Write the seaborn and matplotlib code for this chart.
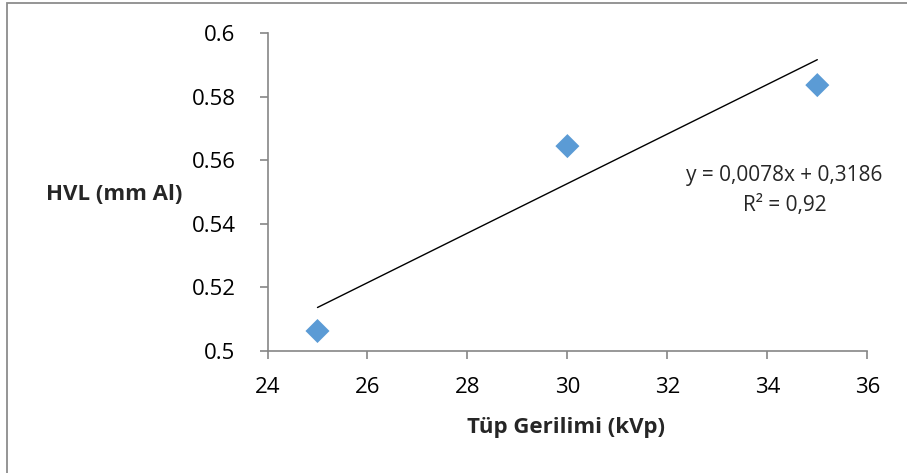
import matplotlib
matplotlib.use("Agg")
import matplotlib.pyplot as plt
from matplotlib.patches import Rectangle
import numpy as np
import pandas as pd
import seaborn as sns

# Measured half-value layer against tube voltage
kvp = [25, 30, 35]
hvl = [0.5062, 0.5644, 0.5836]

# Linear trendline coefficients as reported on the chart
slope = 0.0078
intercept = 0.3186
r_squared = 0.92

x_ticks = [24, 26, 28, 30, 32, 34, 36]
y_ticks = [0.5, 0.52, 0.54, 0.56, 0.58, 0.6]
y_tick_labels = ["0.5", "0.52", "0.54", "0.56", "0.58", "0.6"]

sns.set_theme(style="white")
plt.rcParams["font.family"] = ["Open Sans", "DejaVu Sans"]

W, H, DPI = 907, 473, 100
fig = plt.figure(figsize=(W / DPI, H / DPI), dpi=DPI)
fig.patch.set_facecolor("white")

# Chart-area frame (only left and top edges fall inside the canvas)
fig.patches.append(Rectangle((7.3 / W, -0.1), 1.2, (H - 3.3) / H + 0.1,
                             transform=fig.transFigure, fill=False,
                             edgecolor="#8c8c8c", linewidth=1.3, zorder=0))

ax = fig.add_axes([267.5 / W, (H - 350.7) / H, (867.3 - 267.5) / W, (350.7 - 33) / H])
ax.set_facecolor("none")

df = pd.DataFrame({"kVp": kvp, "HVL": hvl})
trend = pd.DataFrame({"kVp": [kvp[0], kvp[-1]]})
trend["HVL"] = slope * trend["kVp"] + intercept

sns.lineplot(data=trend, x="kVp", y="HVL", ax=ax, color="black", linewidth=1.0, zorder=2)
sns.scatterplot(data=df, x="kVp", y="HVL", ax=ax, marker="D", s=150,
                color="#5B9BD5", edgecolor="none", zorder=3)

ax.set_xlim(24, 36)
ax.set_ylim(0.5, 0.6)
ax.set_xticks(x_ticks)
ax.set_yticks(y_ticks)
ax.set_yticklabels(y_tick_labels)
ax.set_xlabel("")
ax.set_ylabel("")

for side in ["top", "right"]:
    ax.spines[side].set_visible(False)
for side in ["left", "bottom"]:
    ax.spines[side].set_color("#868686")
    ax.spines[side].set_linewidth(1.2)

ax.tick_params(axis="both", direction="out", length=6, width=1.2, color="#868686",
               labelsize=16, labelcolor="black", left=True, bottom=True)
ax.tick_params(axis="y", pad=17)
ax.tick_params(axis="x", pad=13)

fig.text(114 / W, 1 - 194 / H, "HVL (mm Al)", ha="center", va="center",
         fontsize=16, fontweight="bold")
fig.text(566 / W, 1 - 427 / H, "Tüp Gerilimi (kVp)", ha="center", va="center",
         fontsize=16, fontweight="bold")

eq = f"y = {slope:.4f}x + {intercept:.4f}".replace(".", ",")
r2 = f"R² = {r_squared:.2f}".replace(".", ",")
fig.text(784 / W, 1 - 175 / H, eq, ha="center", va="center", fontsize=15)
fig.text(785 / W, 1 - 205 / H, r2, ha="center", va="center", fontsize=15)

fig.savefig("out.png", dpi=DPI, facecolor="white")
